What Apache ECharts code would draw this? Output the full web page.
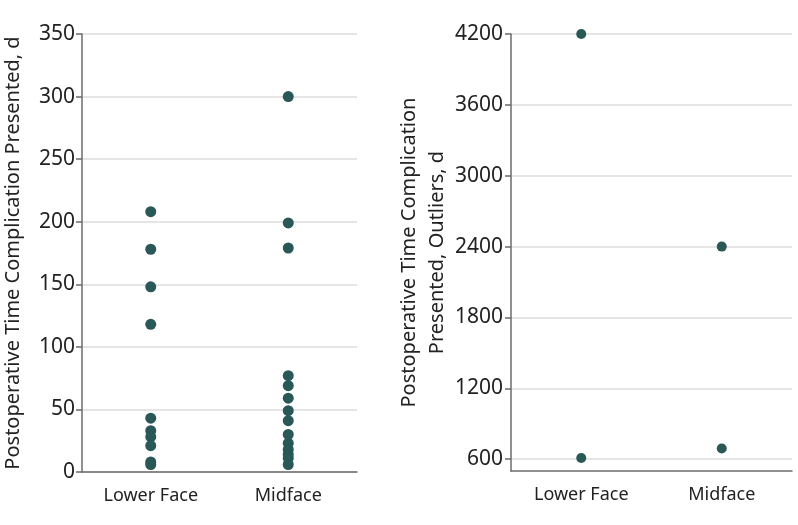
<!DOCTYPE html>
<html><head><meta charset="utf-8">
<script src="https://cdn.jsdelivr.net/npm/echarts@6/dist/echarts.min.js"></script>
<style>html,body{margin:0;padding:0;background:#fff}#c{width:798px;height:525px}</style>
</head><body><div id="c"></div>
<script>
const categories = ['Lower Face', 'Midface'];
const lowerFaceMain = [208, 178, 148, 118, 43, 33, 28, 21, 8, 6];
const midfaceMain = [300, 199, 179, 77, 69, 59, 49, 41, 30, 23, 18, 14, 11, 6];
const lowerFaceOutliers = [4200, 610];
const midfaceOutliers = [2400, 690];
const leftTicks = [0, 50, 100, 150, 200, 250, 300, 350];
const rightTicks = [600, 1200, 1800, 2400, 3000, 3600, 4200];

const dotColor = '#2a5856';
const fontFam = '"Noto Sans", "Open Sans", sans-serif';
function pts(cat, arr) { return arr.map(v => [cat, v]); }

const chart = echarts.init(document.getElementById('c'));
const axisLineStyle = { color: '#6b6b6b', width: 1.5 };
const splitStyle = { color: '#dcdcdc', width: 1.5 };
const fmt = v => String(v);
chart.setOption({
  animation: false,
  grid: [
    { left: 82, top: 34, width: 275, height: 438 },
    { left: 511, top: 34, width: 281, height: 437 }
  ],
  xAxis: [0, 1].map(i => ({
    type: 'category', gridIndex: i, data: categories, boundaryGap: true,
    axisLine: { lineStyle: axisLineStyle }, axisTick: { show: false },
    axisLabel: { fontSize: 18, color: '#222', margin: 15, fontFamily: fontFam },
    splitLine: { show: false }
  })),
  yAxis: [
    {
      type: 'value', gridIndex: 0, min: 0, max: 350, interval: 50,
      name: 'Postoperative Time Complication Presented, d',
      nameLocation: 'middle', nameGap: 59,
      nameTextStyle: { fontSize: 20, color: '#222', fontFamily: fontFam },
      axisLine: { show: true, lineStyle: axisLineStyle },
      axisTick: { show: true, length: 6, lineStyle: axisLineStyle },
      axisLabel: { fontSize: 21, color: '#222', margin: 7, fontFamily: fontFam, formatter: fmt },
      splitLine: { show: true, lineStyle: splitStyle }
    },
    {
      type: 'value', gridIndex: 1, min: 500, max: 4200,
      name: 'Postoperative Time Complication\nPresented, Outliers, d',
      nameLocation: 'middle', nameGap: 59,
      nameTextStyle: { fontSize: 20, color: '#222', fontFamily: fontFam, lineHeight: 28 },
      axisLine: { show: true, lineStyle: axisLineStyle },
      axisTick: { show: true, length: 6, lineStyle: axisLineStyle, customValues: rightTicks },
      axisLabel: { fontSize: 21, color: '#222', margin: 8, fontFamily: fontFam, customValues: rightTicks, formatter: fmt },
      splitLine: { show: true, lineStyle: splitStyle }
    }
  ],
  series: [
    { type: 'scatter', xAxisIndex: 0, yAxisIndex: 0, data: pts(categories[0], lowerFaceMain), symbolSize: 11, itemStyle: { color: dotColor, opacity: 1 } },
    { type: 'scatter', xAxisIndex: 0, yAxisIndex: 0, data: pts(categories[1], midfaceMain), symbolSize: 11, itemStyle: { color: dotColor, opacity: 1 } },
    { type: 'scatter', xAxisIndex: 1, yAxisIndex: 1, data: pts(categories[0], lowerFaceOutliers), symbolSize: 10, itemStyle: { color: dotColor, opacity: 1 } },
    { type: 'scatter', xAxisIndex: 1, yAxisIndex: 1, data: pts(categories[1], midfaceOutliers), symbolSize: 10, itemStyle: { color: dotColor, opacity: 1 } }
  ]
});
</script></body></html>
